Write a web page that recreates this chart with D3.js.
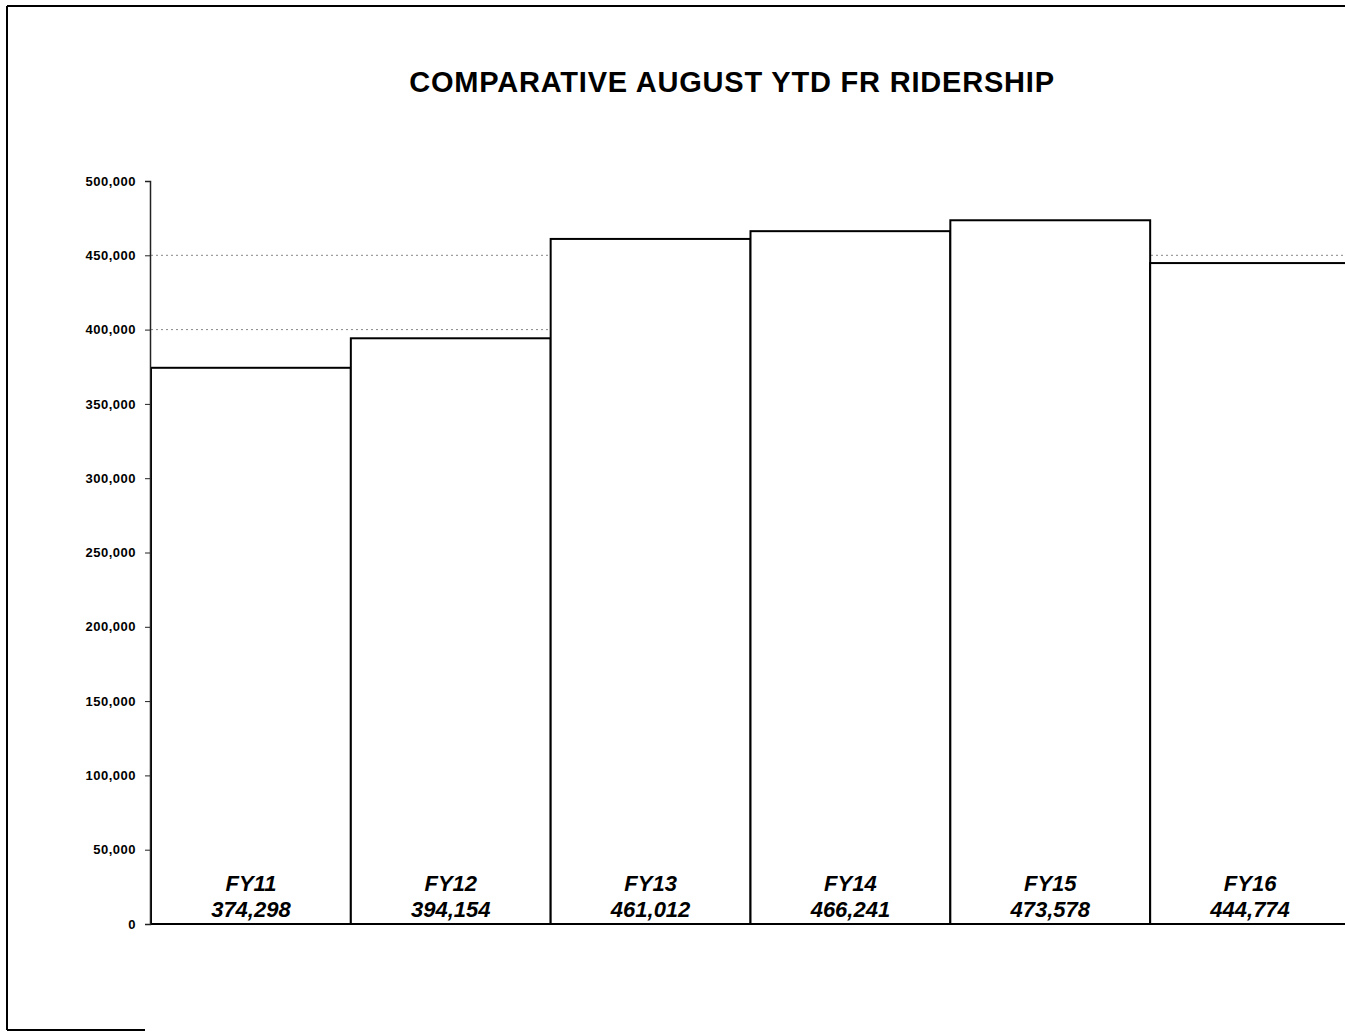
<!DOCTYPE html>
<head>
<meta charset="utf-8">
<style>
body { margin: 0; background: #fff; }
svg text { font-family: "Liberation Sans", Arial, sans-serif; fill: #000; }
svg .grid { stroke: #888; stroke-width: 1px; stroke-dasharray: 2,3; }
svg .bar { fill: #fff; stroke: #000; stroke-width: 2px; }
svg .y-axis .domain { stroke: #222; stroke-width: 1.5px; }
svg .y-axis .tick line { stroke: #222; }
svg .y-axis .tick text { font-size: 13px; font-weight: bold; letter-spacing: 0.5px; }
svg .lbl { font-size: 22px; font-weight: bold; font-style: italic; text-anchor: middle; }
</style>
</head>
<body>
<script src="https://d3js.org/d3.v7.min.js"></script>
<script>
  // data
  var years = ["FY11", "FY12", "FY13", "FY14", "FY15", "FY16"];
  var riders = [374298, 394154, 461012, 466241, 473578, 444774];
  var yTicks = [0, 50000, 100000, 150000, 200000, 250000, 300000, 350000, 400000, 450000, 500000];

  var W = 1345, H = 1032;
  var plot = { left: 151, right: 1350, top: 181, bottom: 924 };

  var svg = d3.select("body").append("svg")
      .attr("width", W)
      .attr("height", H);

  // page frame left over from the scan
  svg.append("line").attr("x1", 7).attr("y1", 6).attr("x2", W).attr("y2", 6)
      .attr("stroke", "#000").attr("stroke-width", 2);
  svg.append("line").attr("x1", 7).attr("y1", 6).attr("x2", 7).attr("y2", 1030)
      .attr("stroke", "#000").attr("stroke-width", 2);
  svg.append("line").attr("x1", 7).attr("y1", 1030).attr("x2", 145).attr("y2", 1030)
      .attr("stroke", "#000").attr("stroke-width", 2);

  svg.append("text")
      .attr("x", 732)
      .attr("y", 92)
      .attr("text-anchor", "middle")
      .style("font-size", "29px")
      .style("font-weight", "bold")
      .style("letter-spacing", "0.8px")
      .text("COMPARATIVE AUGUST YTD FR RIDERSHIP");

  var x = d3.scaleBand().domain(years).range([plot.left, plot.right]).padding(0);
  var y = d3.scaleLinear().domain([0, 500000]).range([plot.bottom, plot.top]);

  // dotted gridlines, sit behind the bars
  svg.append("g").selectAll("line")
    .data(yTicks.filter(function (d) { return d > 0 && d < 500000; }))
    .enter().append("line")
      .classed("grid", true)
      .attr("x1", plot.left)
      .attr("x2", plot.right)
      .attr("y1", function (d) { return y(d); })
      .attr("y2", function (d) { return y(d); });

  // bars
  svg.append("g").selectAll("rect")
    .data(riders)
    .enter().append("rect")
      .classed("bar", true)
      .attr("x", function (d, i) { return x(years[i]); })
      .attr("y", function (d) { return y(d); })
      .attr("width", x.bandwidth())
      .attr("height", function (d) { return y(0) - y(d); });

  // y axis
  var yAxis = d3.axisLeft(y)
      .tickValues(yTicks)
      .tickSize(5)
      .tickSizeOuter(5)
      .tickPadding(9)
      .tickFormat(d3.format(","));

  svg.append("g")
      .classed("y-axis", true)
      .attr("transform", "translate(" + (plot.left - 1) + ",0)")
      .call(yAxis);

  // labels inside the bars
  var lbl = svg.append("g").selectAll("g")
    .data(riders)
    .enter().append("g")
      .attr("transform", function (d, i) {
        return "translate(" + (x(years[i]) + x.bandwidth() / 2) + ",0)";
      });

  lbl.append("text").classed("lbl", true)
      .attr("y", 891)
      .text(function (d, i) { return years[i]; });

  lbl.append("text").classed("lbl", true)
      .attr("y", 917)
      .text(function (d) { return d3.format(",")(d); });
</script>
</body>
</html>
